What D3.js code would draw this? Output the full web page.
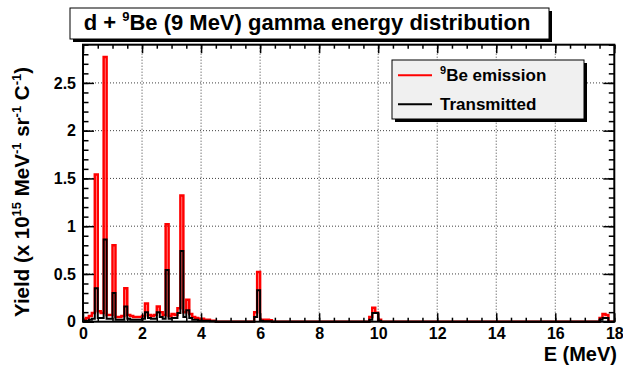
<!DOCTYPE html>
<html>
<head>
<meta charset="utf-8">
<script src="https://cdn.jsdelivr.net/npm/d3@7"></script>
<style>
  html, body { margin: 0; padding: 0; background: #fff; }
  svg { display: block; font-family: "Liberation Sans", Arial, Helvetica, sans-serif; font-weight: bold; }
</style>
</head>
<body>
<svg id="chart" width="623" height="367"></svg>
<script>
// ---- data ----
// lower edges (MeV) of the histogram bins that carry a visible value; bin width 0.1 MeV
const binLow = [
  0.0, 0.1, 0.2, 0.3, 0.4, 0.5, 0.6, 0.7, 0.8, 0.9,
  1.0, 1.1, 1.2, 1.3, 1.4, 1.5, 1.6, 1.7, 1.8, 1.9,
  2.0, 2.1, 2.2, 2.3, 2.4, 2.5, 2.6, 2.7, 2.8, 2.9,
  3.0, 3.1, 3.2, 3.3, 3.4, 3.5, 3.6, 3.7, 3.8, 3.9,
  4.0, 4.1, 4.2, 4.3, 4.4,
  5.8, 5.9, 6.0, 6.1, 6.2, 6.3,
  9.7, 9.8, 9.9, 10.0,
  17.5, 17.6, 17.7
];
const emission = [
  0.02, 0.04, 0.06, 0.09, 1.54, 0.11, 0.09, 2.77, 0.07, 0.07,
  0.80, 0.05, 0.05, 0.06, 0.35, 0.07, 0.06, 0.05, 0.05, 0.05,
  0.06, 0.19, 0.07, 0.06, 0.07, 0.16, 0.10, 0.07, 1.02, 0.06,
  0.08, 0.07, 0.14, 1.32, 0.10, 0.23, 0.08, 0.05, 0.04, 0.03,
  0.03, 0.02, 0.02, 0.01, 0.01,
  0.10, 0.52, 0.02, 0.02, 0.02, 0.015,
  0.05, 0.145, 0.095, 0.02,
  0.04, 0.08, 0.07
];
const transmitted = [
  0.01, 0.01, 0.02, 0.03, 0.35, 0.04, 0.04, 0.86, 0.03, 0.03,
  0.30, 0.02, 0.02, 0.02, 0.16, 0.03, 0.02, 0.02, 0.02, 0.02,
  0.03, 0.10, 0.04, 0.03, 0.03, 0.10, 0.05, 0.03, 0.54, 0.03,
  0.04, 0.04, 0.09, 0.74, 0.05, 0.12, 0.04, 0.02, 0.02, 0.01,
  0.01, 0.01, 0.01, 0.005, 0.005,
  0.05, 0.33, 0.01, 0.005, 0.005, 0.005,
  0.02, 0.09, 0.09, 0.01,
  0.02, 0.04, 0.04
];
const xRange = [0, 18];
const yRange = [0, 2.9];
const binWidth = 0.1;
const xTicks = [0, 2, 4, 6, 8, 10, 12, 14, 16, 18];
const xTickLabels = ["0", "2", "4", "6", "8", "10", "12", "14", "16", "18"];
const yTicks = [0, 0.5, 1, 1.5, 2, 2.5];
const yTickLabels = ["0", "0.5", "1", "1.5", "2", "2.5"];
const seriesNames = ["Be emission", "Transmitted"];
const seriesColors = ["#ff0000", "#000000"];

// ---- layout ----
const svg = d3.select("#chart");
const L = 83, R = 614.3, T = 44.7, B = 321.7;
const x = d3.scaleLinear(xRange, [L, R]);
const y = d3.scaleLinear(yRange, [B, T]);

// build the full histograms
const nBins = Math.round((xRange[1] - xRange[0]) / binWidth);
function fullHist(vals) {
  const h = new Array(nBins).fill(0);
  binLow.forEach((e, i) => { h[Math.round(e / binWidth)] = vals[i]; });
  return h;
}
const hists = [fullHist(emission), fullHist(transmitted)];

svg.append("defs").append("clipPath").attr("id", "frameClip")
  .append("rect").attr("x", L).attr("y", T).attr("width", R - L).attr("height", B - T + 2);

// grid
const grid = svg.append("g").attr("stroke", "#000").attr("stroke-width", 1)
  .attr("stroke-dasharray", "1,2").attr("opacity", 0.75);
xTicks.filter(v => v > xRange[0] && v < xRange[1]).forEach(v => {
  grid.append("line").attr("x1", x(v)).attr("x2", x(v)).attr("y1", B).attr("y2", T);
});
yTicks.filter(v => v > 0).forEach(v => {
  grid.append("line").attr("x1", L).attr("x2", R).attr("y1", y(v)).attr("y2", y(v));
});

// histograms (step outlines)
const line = d3.line().x(d => x(d[0])).y(d => y(d[1])).curve(d3.curveStepAfter);
const histG = svg.append("g").attr("clip-path", "url(#frameClip)");
hists.forEach((h, k) => {
  const pts = h.map((v, i) => [i * binWidth, v]);
  pts.push([xRange[1], h[h.length - 1]]);
  histG.append("path").attr("d", line(pts)).attr("fill", "none")
    .attr("stroke", seriesColors[k]).attr("stroke-width", k === 0 ? 2.5 : 2)
    .attr("stroke-linejoin", "miter");
});

// frame
svg.append("rect").attr("x", L).attr("y", T).attr("width", R - L).attr("height", B - T)
  .attr("fill", "none").attr("stroke", "#000").attr("stroke-width", 2);

// ticks
const xMinor = d3.range(xRange[0], xRange[1] + 1e-9, 0.5);
const yMinor = d3.range(0, yRange[1] + 1e-9, 0.1);
function styleAxis(g) {
  g.select(".domain").remove();
  g.selectAll(".tick line").attr("stroke", "#000").attr("stroke-width", 1.5);
}
svg.append("g").attr("transform", `translate(0,${B})`)
  .call(d3.axisBottom(x).tickValues(xMinor).tickSize(-4).tickFormat("")).call(styleAxis);
svg.append("g").attr("transform", `translate(0,${B})`)
  .call(d3.axisBottom(x).tickValues(xTicks).tickSize(-8.5).tickPadding(6)
    .tickFormat((d, i) => xTickLabels[i]))
  .call(styleAxis)
  .call(g => g.selectAll("text").attr("font-size", 16).attr("font-weight", "bold")
    .attr("fill", "#000").attr("font-family", "Liberation Sans, Arial, sans-serif"));
svg.append("g").attr("transform", `translate(0,${T})`)
  .call(d3.axisTop(x).tickValues(xMinor).tickSize(-4).tickFormat("")).call(styleAxis);
svg.append("g").attr("transform", `translate(0,${T})`)
  .call(d3.axisTop(x).tickValues(xTicks).tickSize(-8.5).tickFormat("")).call(styleAxis);

svg.append("g").attr("transform", `translate(${L},0)`)
  .call(d3.axisLeft(y).tickValues(yMinor).tickSize(-5.5).tickFormat("")).call(styleAxis);
svg.append("g").attr("transform", `translate(${L},0)`)
  .call(d3.axisLeft(y).tickValues(yTicks).tickSize(-11).tickPadding(7)
    .tickFormat((d, i) => yTickLabels[i]))
  .call(styleAxis)
  .call(g => g.selectAll("text").attr("font-size", 16).attr("font-weight", "bold")
    .attr("fill", "#000").attr("font-family", "Liberation Sans, Arial, sans-serif"));
svg.append("g").attr("transform", `translate(${R},0)`)
  .call(d3.axisRight(y).tickValues(yMinor).tickSize(-5.5).tickFormat("")).call(styleAxis);
svg.append("g").attr("transform", `translate(${R},0)`)
  .call(d3.axisRight(y).tickValues(yTicks).tickSize(-11).tickFormat("")).call(styleAxis);

// axis titles
svg.append("text").attr("x", 617).attr("y", 361).attr("text-anchor", "end")
  .attr("font-size", 20).text("E (MeV)");

const yt = svg.append("text").attr("transform", "translate(29,192) rotate(-90)")
  .attr("text-anchor", "middle").attr("font-size", 20.5);
yt.append("tspan").text("Yield (x 10");
yt.append("tspan").attr("dy", -8).attr("font-size", 13).text("15");
yt.append("tspan").attr("dy", 8).text(" MeV");
yt.append("tspan").attr("dy", -8).attr("font-size", 13).text("-1");
yt.append("tspan").attr("dy", 8).text(" sr");
yt.append("tspan").attr("dy", -8).attr("font-size", 13).text("-1");
yt.append("tspan").attr("dy", 8).text(" C");
yt.append("tspan").attr("dy", -8).attr("font-size", 13).text("-1");
yt.append("tspan").attr("dy", 8).text(")");

// legend
const lg = { x: 392, y: 60, w: 192, h: 59 };
svg.append("rect").attr("x", lg.x + 3).attr("y", lg.y + 3).attr("width", lg.w).attr("height", lg.h).attr("fill", "#000");
svg.append("rect").attr("x", lg.x).attr("y", lg.y).attr("width", lg.w).attr("height", lg.h)
  .attr("fill", "#f0f0f0").attr("stroke", "#000").attr("stroke-width", 1);
seriesNames.forEach((name, k) => {
  const cy = lg.y + lg.h * (k === 0 ? 0.26 : 0.75);
  svg.append("line").attr("x1", lg.x + 6).attr("x2", lg.x + 40).attr("y1", cy).attr("y2", cy)
    .attr("stroke", seriesColors[k]).attr("stroke-width", 2);
  const t = svg.append("text").attr("x", lg.x + 48).attr("y", cy + 6).attr("font-size", 17);
  if (k === 0) {
    t.append("tspan").attr("dy", -7).attr("font-size", 11).text("9");
    t.append("tspan").attr("dy", 7).text(name);
  } else {
    t.text(name);
  }
});

// title box
const tb = { x: 70, y: 8, w: 479, h: 31 };
svg.append("rect").attr("x", tb.x + 3).attr("y", tb.y + 3).attr("width", tb.w).attr("height", tb.h).attr("fill", "#000");
svg.append("rect").attr("x", tb.x).attr("y", tb.y).attr("width", tb.w).attr("height", tb.h)
  .attr("fill", "#fff").attr("stroke", "#000").attr("stroke-width", 1);
const tt = svg.append("text").attr("x", 307).attr("y", 30).attr("text-anchor", "middle").attr("font-size", 22);
tt.append("tspan").text("d + ");
tt.append("tspan").attr("dy", -9).attr("font-size", 13).text("9");
tt.append("tspan").attr("dy", 9).text("Be (9 MeV) gamma energy distribution");
</script>
</body>
</html>
